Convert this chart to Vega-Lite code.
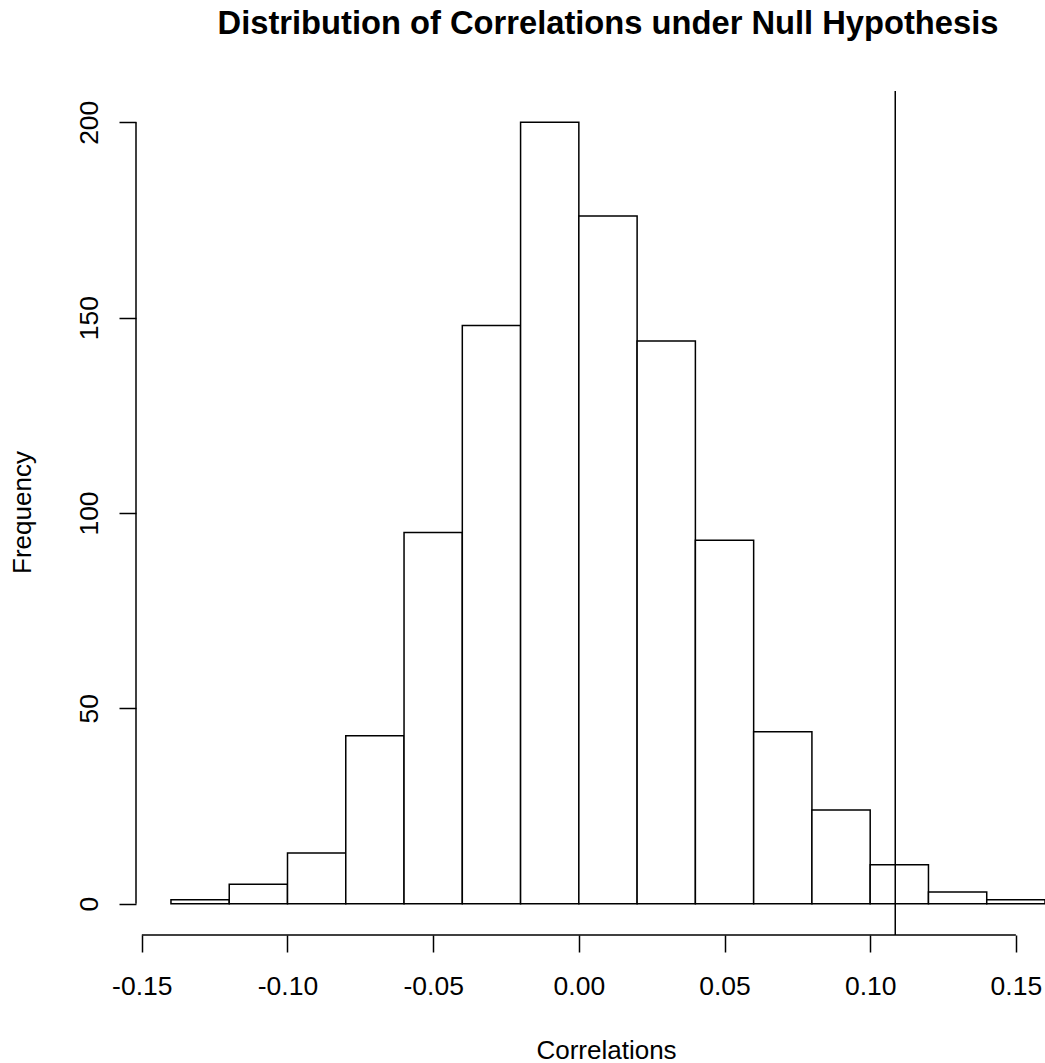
{
  "$schema": "https://vega.github.io/schema/vega-lite/v6.json",
  "width": 909,
  "height": 844,
  "autosize": {"type": "none"},
  "padding": {"left": 136, "top": 91, "right": 0, "bottom": 128},
  "background": "white",
  "title": {
    "text": "Distribution of Correlations under Null Hypothesis",
    "font": "Liberation Sans",
    "fontSize": 32.7,
    "fontWeight": "bold",
    "color": "black",
    "anchor": "middle",
    "dx": 17.5,
    "baseline": "alphabetic",
    "offset": 24
  },
  "config": {
    "view": {"stroke": null},
    "axis": {"grid": false}
  },
  "datasets": {
    "bins": [
      {"start": -0.14, "end": -0.12, "count": 1},
      {"start": -0.12, "end": -0.10, "count": 5},
      {"start": -0.10, "end": -0.08, "count": 13},
      {"start": -0.08, "end": -0.06, "count": 43},
      {"start": -0.06, "end": -0.04, "count": 95},
      {"start": -0.04, "end": -0.02, "count": 148},
      {"start": -0.02, "end": 0.00, "count": 200},
      {"start": 0.00, "end": 0.02, "count": 176},
      {"start": 0.02, "end": 0.04, "count": 144},
      {"start": 0.04, "end": 0.06, "count": 93},
      {"start": 0.06, "end": 0.08, "count": 44},
      {"start": 0.08, "end": 0.10, "count": 24},
      {"start": 0.10, "end": 0.12, "count": 10},
      {"start": 0.12, "end": 0.14, "count": 3},
      {"start": 0.14, "end": 0.16, "count": 1}
    ],
    "observed": [{"r": 0.1086}]
  },
  "layer": [
    {
      "data": {"name": "bins"},
      "mark": {"type": "rect", "fill": "white", "stroke": "black", "strokeWidth": 1.5},
      "encoding": {
        "x": {
          "field": "start",
          "type": "quantitative",
          "scale": {"domain": [-0.152, 0.16], "nice": false, "zero": false},
          "axis": {
            "values": [-0.15, -0.1, -0.05, 0, 0.05, 0.1, 0.15],
            "labelExpr": "datum.value < 0 ? '-' + format(-datum.value, '.2f') : format(datum.value, '.2f')",
            "domain": false,
            "tickSize": 17,
            "tickColor": "black",
            "tickWidth": 1.5,
            "labelFont": "Liberation Sans",
            "labelFontSize": 26.5,
            "labelColor": "black",
            "labelBaseline": "alphabetic",
            "labelPadding": 42,
            "labelFlush": false,
            "labelOverlap": false,
            "title": "Correlations",
            "titleFont": "Liberation Sans",
            "titleFontSize": 26,
            "titleFontWeight": "normal",
            "titleColor": "black",
            "titleX": 470,
            "titleY": 123,
            "titleAlign": "center",
            "titleBaseline": "alphabetic"
          }
        },
        "x2": {"field": "end"},
        "y": {
          "field": "count",
          "type": "quantitative",
          "scale": {"domain": [-8, 208], "nice": false, "zero": false},
          "axis": {
            "values": [0, 50, 100, 150, 200],
            "domain": false,
            "tickSize": 17,
            "tickColor": "black",
            "tickWidth": 1.5,
            "labelFont": "Liberation Sans",
            "labelFontSize": 26.5,
            "labelColor": "black",
            "labelAngle": -90,
            "labelAlign": "center",
            "labelBaseline": "alphabetic",
            "labelPadding": 22,
            "labelFlush": false,
            "labelOverlap": false,
            "title": "Frequency",
            "titleFont": "Liberation Sans",
            "titleFontSize": 26,
            "titleFontWeight": "normal",
            "titleColor": "black",
            "titleAngle": -90,
            "titleX": -106,
            "titleY": 421,
            "titleAlign": "center",
            "titleBaseline": "alphabetic"
          }
        },
        "y2": {"datum": 0}
      }
    },
    {
      "data": {"name": "observed"},
      "mark": {"type": "rule", "color": "black", "strokeWidth": 1.5},
      "encoding": {
        "x": {"field": "r", "type": "quantitative"}
      }
    },
    {
      "data": {"values": [{}]},
      "mark": {"type": "rule", "color": "black", "strokeWidth": 1.5},
      "encoding": {
        "x": {"datum": -0.15},
        "x2": {"datum": 0.15},
        "y": {"datum": -8}
      }
    },
    {
      "data": {"values": [{}]},
      "mark": {"type": "rule", "color": "black", "strokeWidth": 1.5},
      "encoding": {
        "x": {"datum": -0.152},
        "y": {"datum": 0},
        "y2": {"datum": 200}
      }
    }
  ]
}
